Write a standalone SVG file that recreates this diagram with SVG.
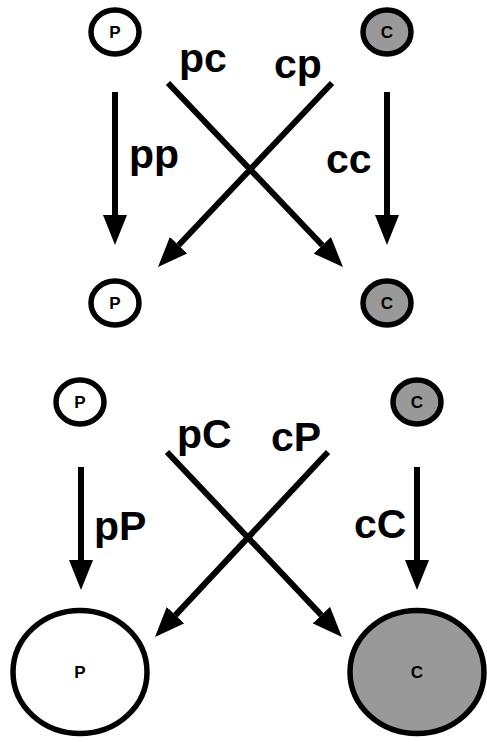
<svg xmlns="http://www.w3.org/2000/svg" width="487" height="742" viewBox="0 0 487 742">
<style>
.node{stroke:#000;stroke-width:5.5}
.p{fill:#fff}
.c{fill:#999}
.nl{font-family:"Liberation Sans",Arial,sans-serif;font-weight:bold;font-size:17px;fill:#000;text-anchor:middle;dominant-baseline:central}
.el{font-family:"Liberation Sans",Arial,sans-serif;font-weight:bold;font-size:41px;fill:#000}
.edge{stroke:#000;stroke-width:6;fill:none;marker-end:url(#ah)}
</style>
<defs>
<marker id="ah" markerUnits="userSpaceOnUse" markerWidth="30" markerHeight="24" refX="0" refY="12" orient="auto" viewBox="0 0 30 24">
<path d="M0,0 L30,12 L0,24 z" fill="#000"/>
</marker>
</defs>
<rect width="487" height="742" fill="#fff"/>
<g id="connectors">
<line class="edge" x1="115" y1="92" x2="115" y2="215"/>
<line class="edge" x1="387" y1="92" x2="387" y2="215"/>
<line class="edge" x1="168" y1="83" x2="322.3" y2="245.3"/>
<line class="edge" x1="332" y1="83" x2="178.6" y2="245.2"/>
<line class="edge" x1="81" y1="467" x2="81" y2="560"/>
<line class="edge" x1="417" y1="467" x2="417" y2="560"/>
<line class="edge" x1="167" y1="452" x2="321.3" y2="615.1"/>
<line class="edge" x1="328" y1="452" x2="175.5" y2="615.1"/>
<text class="el" x="179" y="72">pc</text>
<text class="el" x="274" y="78">cp</text>
<text class="el" x="129" y="168">pp</text>
<text class="el" x="326" y="173">cc</text>
<text class="el" x="177" y="448">pC</text>
<text class="el" x="271" y="451">cP</text>
<text class="el" x="94" y="540">pP</text>
<text class="el" x="354" y="538">cC</text>
</g>
<g id="p1"><ellipse class="node p" cx="115" cy="32" rx="24" ry="22"/><text class="nl" x="115" y="32">P</text></g>
<g id="c1"><ellipse class="node c" cx="387" cy="32" rx="24" ry="22"/><text class="nl" x="387" y="32">C</text></g>
<g id="p2"><ellipse class="node p" cx="115" cy="303" rx="24" ry="22"/><text class="nl" x="115" y="303">P</text></g>
<g id="c2"><ellipse class="node c" cx="387" cy="303" rx="24" ry="22"/><text class="nl" x="387" y="303">C</text></g>
<g id="p3"><ellipse class="node p" cx="80" cy="402" rx="24" ry="22"/><text class="nl" x="80" y="402">P</text></g>
<g id="c3"><ellipse class="node c" cx="417" cy="402" rx="24" ry="22"/><text class="nl" x="417" y="402">C</text></g>
<g id="p4"><ellipse class="node p" cx="80" cy="672" rx="67" ry="61.5" stroke-width="6"/><text class="nl" x="80" y="672">P</text></g>
<g id="c4"><ellipse class="node c" cx="417" cy="672" rx="67" ry="61.5" stroke-width="6"/><text class="nl" x="417" y="672">C</text></g>
</svg>
